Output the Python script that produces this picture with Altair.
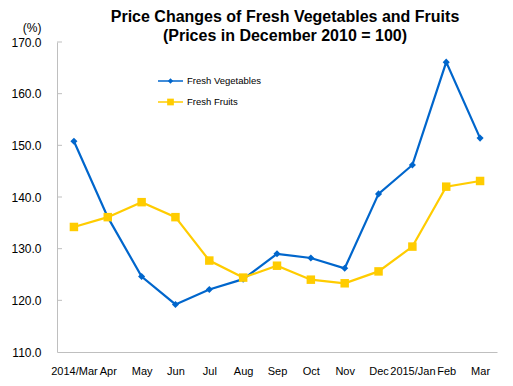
import altair as alt
import pandas as pd

months = ["2014/Mar", "Apr", "May", "Jun", "Jul", "Aug", "Sep", "Oct", "Nov",
          "Dec", "2015/Jan", "Feb", "Mar"]
veg = [150.8, 136.1, 124.6, 119.2, 122.1, 124.1, 129.0, 128.2, 126.2, 140.6, 146.2, 166.1, 151.4]
fruit = [134.2, 136.1, 139.0, 136.1, 127.7, 124.4, 126.7, 124.0, 123.3, 125.6, 130.4, 142.0, 143.1]
series = ["Fresh Vegetables", "Fresh Fruits"]
colors = ["#0066CC", "#FFCC00"]
shapes = ["diamond", "square"]
sizes = [50, 72]
y_ticks = [110, 120, 130, 140, 150, 160, 170]
inner_ticks = [120, 130, 140, 150, 160, 170]

rows = []
for name, vals in zip(series, [veg, fruit]):
    for m, v in zip(months, vals):
        rows.append({"month": m, "series": name, "value": v})
df = pd.DataFrame(rows)

FONT = "Liberation Sans"
AXIS_GRAY = "#BFBFBF"

yscale = alt.Scale(domain=[110, 170], nice=False, zero=False)
xscale = alt.Scale(type="point", padding=0.5)
xaxis = alt.Axis(title=None, labelAngle=0, ticks=False, labelPadding=13,
                 labelFontSize=11, domainColor=AXIS_GRAY, labelColor="#000000",
                 grid=False)
yaxis = alt.Axis(values=y_ticks, format=".1f", title="(%)", titleAngle=0,
                 titleX=-16, titleY=-11, titleAlign="right",
                 titleBaseline="alphabetic", titleFontWeight="normal",
                 titleFontSize=12, titleColor="#000000", ticks=False,
                 labelPadding=16, labelFontSize=12, labelColor="#000000",
                 domainColor=AXIS_GRAY, grid=False)
xenc = alt.X("month:N", sort=months, scale=xscale, axis=xaxis)
yenc = alt.Y("value:Q", scale=yscale, axis=yaxis)

layers = []
for i, name in enumerate(series):
    base = alt.Chart(df).transform_filter(alt.datum.series == name)
    line = base.mark_line(color=colors[i], strokeWidth=2.2).encode(x=xenc, y=yenc)
    pts = base.mark_point(shape=shapes[i], size=sizes[i], filled=True, opacity=1,
                          color=colors[i]).encode(x=xenc, y=yenc)
    layers += [line, pts]

# inward tick marks on the y axis
tick_df = pd.DataFrame({"value": inner_ticks})
layers.append(
    alt.Chart(tick_df).mark_rule(color=AXIS_GRAY, strokeWidth=1).encode(
        x=alt.value(0), x2=alt.value(5), y=yenc
    )
)

# manual legend inside the plot
leg_df = pd.DataFrame({"series": series})
for i, name in enumerate(series):
    lb = alt.Chart(leg_df).transform_filter(alt.datum.series == name)
    yy = 39 + 21 * i
    layers.append(lb.mark_rule(color=colors[i], strokeWidth=1.5).encode(
        x=alt.value(101), x2=alt.value(126), y=alt.value(yy)))
    layers.append(lb.mark_point(shape=shapes[i], size=[28, 45][i], filled=True, opacity=1,
                                color=colors[i]).encode(
        x=alt.value(113.5), y=alt.value(yy)))
    layers.append(lb.mark_text(align="left", baseline="middle", fontSize=9.5, font=FONT,
                               color="#000000").encode(
        x=alt.value(130), y=alt.value(yy), text="series:N"))

chart = alt.layer(*layers).properties(
    width=440, height=310,
    title=alt.TitleParams(
        text=["Price Changes of Fresh Vegetables and Fruits", "(Prices in December 2010 = 100)"],
        fontSize=16, fontWeight="bold", font=FONT, anchor="middle", frame="group",
        dx=8, dy=24, offset=1, lineHeight=19, color="#000000"),
    autosize=alt.AutoSizeParams(type="none"),
    padding={"left": 49, "top": 34, "right": 8, "bottom": 28},
).configure(font=FONT).configure_view(stroke=None)

chart.save("out.html", embed_options={"renderer": "svg", "actions": False})
